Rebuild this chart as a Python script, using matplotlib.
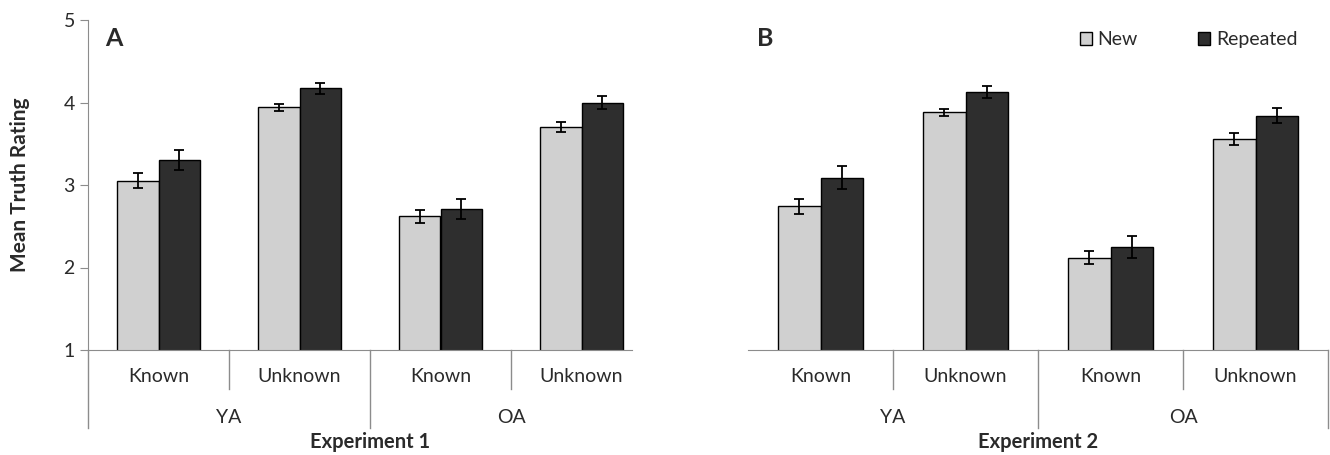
import numpy as np
import matplotlib.pyplot as plt
from matplotlib.patches import Patch

plt.rcParams['font.family'] = ['Lato', 'DejaVu Sans']

# Dados
grupos = ['YA', 'OA']
categorias = ['Known', 'Unknown', 'Known', 'Unknown']

# Experimento 1
exp1_new = [3.05, 3.94, 2.62, 3.70]
exp1_new_err = [0.09, 0.04, 0.08, 0.06]
exp1_rep = [3.30, 4.17, 2.71, 4.00]
exp1_rep_err = [0.12, 0.07, 0.12, 0.08]

# Experimento 2
exp2_new = [2.74, 3.88, 2.12, 3.56]
exp2_new_err = [0.09, 0.04, 0.08, 0.07]
exp2_rep = [3.09, 4.13, 2.25, 3.84]
exp2_rep_err = [0.14, 0.07, 0.13, 0.09]

cor_new = '#d0d0d0'
cor_rep = '#2e2e2e'
cor_eixo = '#8c8c8c'
cor_texto = '#2a2a2a'

W, H = 1330, 455
fig = plt.figure(figsize=(W / 100, H / 100), dpi=100)

def px_axes(x0, x1, y_top, y_bot):
    return fig.add_axes([x0 / W, 1 - y_bot / H, (x1 - x0) / W, (y_bot - y_top) / H])

ax_a = px_axes(88, 652, 20, 350)
ax_b = px_axes(748, 1328, 20, 350)


def painel(ax, new, new_err, rep, rep_err, letra, x_letra, titulo, eixo_y, linha_esq, linha_dir, fim):
    x = np.arange(len(categorias))
    w = 0.295
    ax.bar(x - w / 2, new, w, bottom=0, color=cor_new, edgecolor='black', linewidth=1,
           yerr=new_err, capsize=3.5, error_kw=dict(elinewidth=1.3, capthick=1.3, ecolor='black'))
    ax.bar(x + w / 2, rep, w, bottom=0, color=cor_rep, edgecolor='black', linewidth=1,
           yerr=rep_err, capsize=3.5, error_kw=dict(elinewidth=1.3, capthick=1.3, ecolor='black'))
    ax.set_xlim(-0.5, 3.5)
    ax.set_ylim(1, 5)

    for s in ['top', 'right']:
        ax.spines[s].set_visible(False)
    ax.spines['bottom'].set_color(cor_eixo)
    ax.spines['bottom'].set_bounds(-0.5, fim)
    ax.set_xticks([])

    if eixo_y:
        ax.spines['left'].set_color(cor_eixo)
        ax.set_yticks([1, 2, 3, 4, 5])
        ax.tick_params(axis='y', colors=cor_eixo, length=6, labelsize=14, labelcolor=cor_texto)
        ax.set_ylabel('Mean Truth Rating', fontsize=15, fontweight='bold', labelpad=24, color=cor_texto)
    else:
        ax.spines['left'].set_visible(False)
        ax.set_yticks([])

    tr = ax.get_xaxis_transform()
    # rótulos das categorias e linhas separadoras
    for i, c in enumerate(categorias):
        ax.text(i, -0.079, c, transform=tr, ha='center', va='center', fontsize=14, color=cor_texto)
    for xs in [0.5, 2.5]:
        ax.plot([xs, xs], [0, -0.118], transform=tr, color=cor_eixo, lw=1, clip_on=False)
    longas = [1.5]
    if linha_esq:
        longas.append(-0.5)
    if linha_dir:
        longas.append(3.5)
    for xs in longas:
        ax.plot([xs, xs], [0, -0.236], transform=tr, color=cor_eixo, lw=1, clip_on=False)
    for j, g in enumerate(grupos):
        ax.text(0.5 + 2 * j, -0.205, g, transform=tr, ha='center', va='center', fontsize=14, color=cor_texto)
    ax.text(1.5, -0.28, titulo, transform=tr, ha='center', va='center', fontsize=14.5, fontweight='bold',
            color=cor_texto)
    ax.text(x_letra, 0.945, letra, transform=ax.transAxes, ha='left', va='center', fontsize=18,
            fontweight='bold', color=cor_texto)


painel(ax_a, exp1_new, exp1_new_err, exp1_rep, exp1_rep_err, 'A', 0.03, 'Experiment 1', True, True, False, 3.36)
painel(ax_b, exp2_new, exp2_new_err, exp2_rep, exp2_rep_err, 'B', 0.015, 'Experiment 2', False, False, True, 3.5)

handles = [Patch(facecolor=cor_new, edgecolor='black', linewidth=1, label='New'),
           Patch(facecolor=cor_rep, edgecolor='black', linewidth=1, label='Repeated')]
ax_b.legend(handles=handles, loc='center', bbox_to_anchor=(0.76, 0.94), ncol=2, frameon=False,
            handlelength=0.6, handleheight=0.6, handletextpad=0.3, columnspacing=3.1,
            fontsize=14, labelcolor=cor_texto)

fig.savefig('out.png', dpi=100)
